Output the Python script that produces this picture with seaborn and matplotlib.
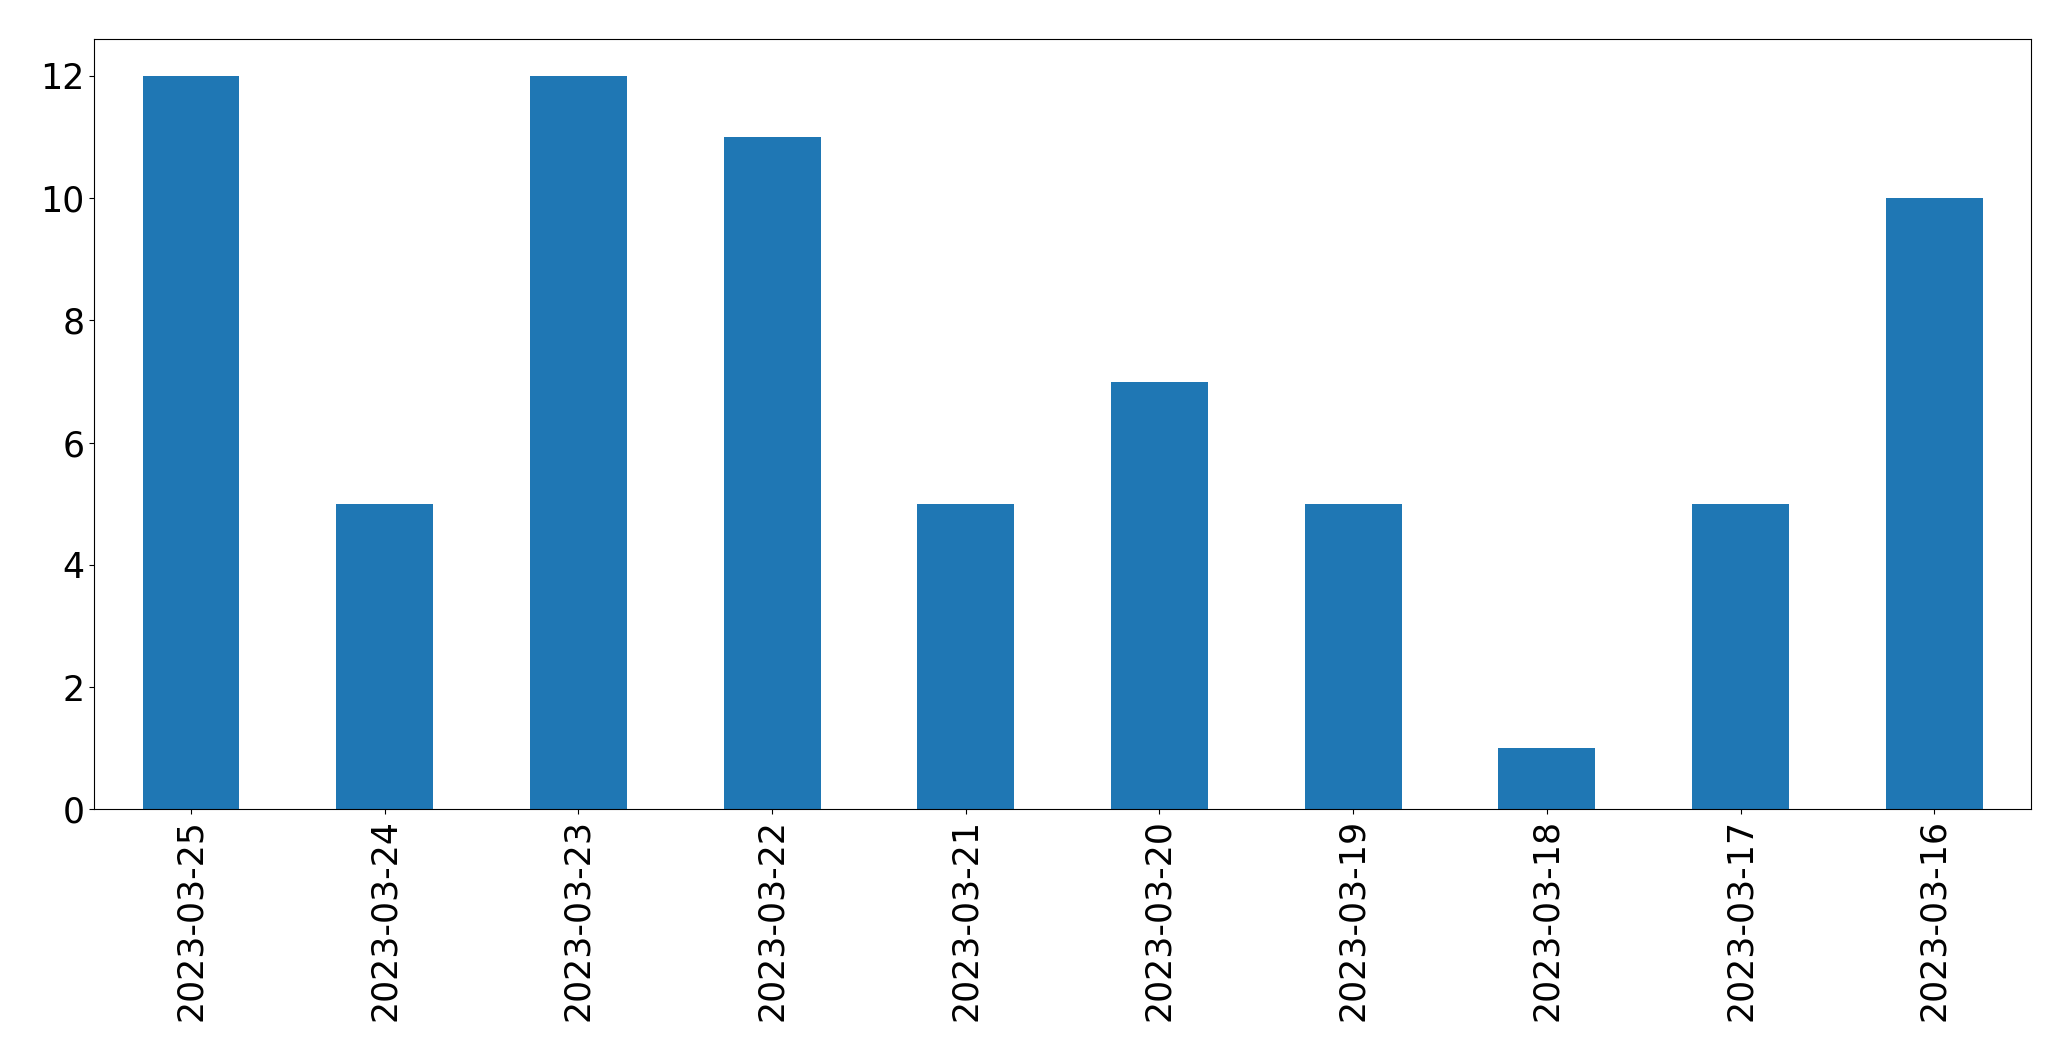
import matplotlib
matplotlib.use("Agg")
import matplotlib.pyplot as plt
import seaborn as sns
import pandas as pd

dates = ["2023-03-25", "2023-03-24", "2023-03-23", "2023-03-22", "2023-03-21",
         "2023-03-20", "2023-03-19", "2023-03-18", "2023-03-17", "2023-03-16"]
counts = [12, 5, 12, 11, 5, 7, 5, 1, 5, 10]

df = pd.DataFrame({"date": dates, "count": counts})

fig = plt.figure(figsize=(20.71, 10.61), dpi=100)
ax = fig.add_axes([0.0455, 0.2372, 0.9807 - 0.0455, 0.963 - 0.2372])
sns.barplot(data=df, x="date", y="count", order=dates, color="#1f77b4",
            saturation=1, width=0.5, linewidth=0, ax=ax)
ax.set_xlim(-0.5, len(dates) - 0.5)
ax.set_ylim(0, 12.6)
ax.set_xlabel("")
ax.set_ylabel("")
ax.tick_params(axis="both", labelsize=25)
plt.setp(ax.get_xticklabels(), rotation=90)
fig.savefig("out.png", dpi=100)
